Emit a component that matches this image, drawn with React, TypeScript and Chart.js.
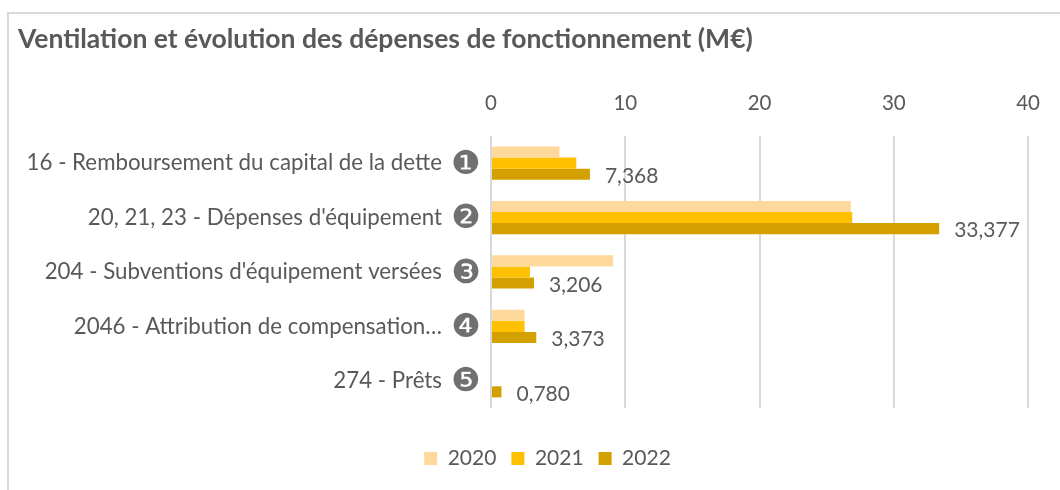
import React, { useEffect, useRef } from "react";
import { Chart, registerables } from "chart.js";

Chart.register(...registerables);

const categories = [
  "16 - Remboursement du capital de la dette",
  "20, 21, 23 - Dépenses d'équipement",
  "204 - Subventions d'équipement versées",
  "2046 - Attribution de compensation…",
  "274 - Prêts",
];
const markers = ["❶", "❷", "❸", "❹", "❺"];
const seriesNames = ["2020", "2021", "2022"];
const values2020 = [5.1, 26.8, 9.1, 2.5, 0];
const values2021 = [6.35, 26.9, 2.9, 2.5, 0];
const values2022 = [7.368, 33.377, 3.206, 3.373, 0.78];
const xTicks = [0, 10, 20, 30, 40];
const colors = ["#FFD99B", "#FFC000", "#D4A000"];

const FONT = 'Lato, "DejaVu Sans", sans-serif';
const TEXT = "#595959";
const LEGEND_SHIFT = 22;

const valueLabels = {
  id: "valueLabels",
  afterDatasetsDraw(chart: any) {
    const meta = chart.getDatasetMeta(2);
    const ctx = chart.ctx;
    ctx.save();
    ctx.font = `21px ${FONT}`;
    ctx.fillStyle = TEXT;
    ctx.textAlign = "left";
    ctx.textBaseline = "middle";
    meta.data.forEach((el: any, i: number) => {
      const v = values2022[i];
      ctx.fillText(v.toFixed(3).replace(".", ","), el.x + 15, el.y + 2);
    });
    ctx.restore();
  },
};

const markerLabels = {
  id: "markerLabels",
  afterDraw(chart: any) {
    const yScale = chart.scales.y;
    const ctx = chart.ctx;
    ctx.save();
    ctx.font = `33px "DejaVu Sans", sans-serif`;
    ctx.fillStyle = "#707070";
    ctx.textAlign = "center";
    ctx.textBaseline = "middle";
    markers.forEach((m, i) => {
      ctx.fillText(m, chart.chartArea.left - 25, yScale.getPixelForTick(i) + 2);
    });
    ctx.restore();
  },
};

const legendShift = {
  id: "legendShift",
  afterLayout(chart: any) {
    if (chart.legend) {
      chart.legend.left += LEGEND_SHIFT;
      chart.legend.right += LEGEND_SHIFT;
    }
  },
};

export default function App() {
  const ref = useRef<HTMLCanvasElement | null>(null);

  useEffect(() => {
    if (!ref.current) return;
    const chart = new Chart(ref.current, {
      type: "bar",
      data: {
        labels: categories,
        datasets: [values2020, values2021, values2022].map((vals, i) => ({
          label: seriesNames[i],
          data: vals,
          backgroundColor: colors[i],
          borderWidth: 0,
          categoryPercentage: 0.61,
          barPercentage: 1,
        })),
      },
      options: {
        indexAxis: "y",
        animation: false,
        responsive: false,
        maintainAspectRatio: false,
        layout: { padding: { left: 18, right: 27, top: 0, bottom: 11 } },
        plugins: {
          tooltip: { enabled: false },
          title: {
            display: true,
            text: "Ventilation et évolution des dépenses de fonctionnement (M€)",
            align: "start",
            color: TEXT,
            font: { family: FONT, size: 26.5, weight: "bold" },
            padding: { top: 23.1, bottom: 16.4 },
          },
          legend: {
            position: "bottom",
            title: { display: true, text: "", font: { size: 10 }, padding: { top: 0, bottom: 13 } },
            labels: {
              color: TEXT,
              font: { family: FONT, size: 21 },
              boxWidth: 13,
              boxHeight: 13,
              padding: 15,
            },
          },
        },
        scales: {
          x: {
            position: "top",
            min: xTicks[0],
            max: xTicks[xTicks.length - 1],
            afterBuildTicks(scale: any) {
              scale.ticks = xTicks.map((v) => ({ value: v }));
            },
            ticks: { color: TEXT, font: { family: FONT, size: 20.5 }, padding: 20 },
            grid: { color: "#d9d9d9", lineWidth: 2, drawTicks: false },
            border: { display: false },
          },
          y: {
            afterFit(scale: any) {
              scale.width = 473;
            },
            ticks: { color: TEXT, font: { family: FONT, size: 22.3 }, padding: 41 },
            grid: { display: false },
            border: { display: false },
          },
        },
      },
      plugins: [valueLabels, markerLabels, legendShift],
    });
    return () => chart.destroy();
  }, []);

  return (
    <div style={{ position: "absolute", left: 0, top: 0, width: 1060, height: 490, background: "#fff", overflow: "hidden" }}>
      <div
        style={{
          position: "absolute",
          left: 7,
          top: 12,
          width: 1100,
          height: 600,
          borderTop: "2px solid #d9d9d9",
          borderLeft: "2px solid #d9d9d9",
        }}
      />
      <canvas ref={ref} width={1060} height={490} style={{ position: "absolute", left: 0, top: 0 }} />
    </div>
  );
}
